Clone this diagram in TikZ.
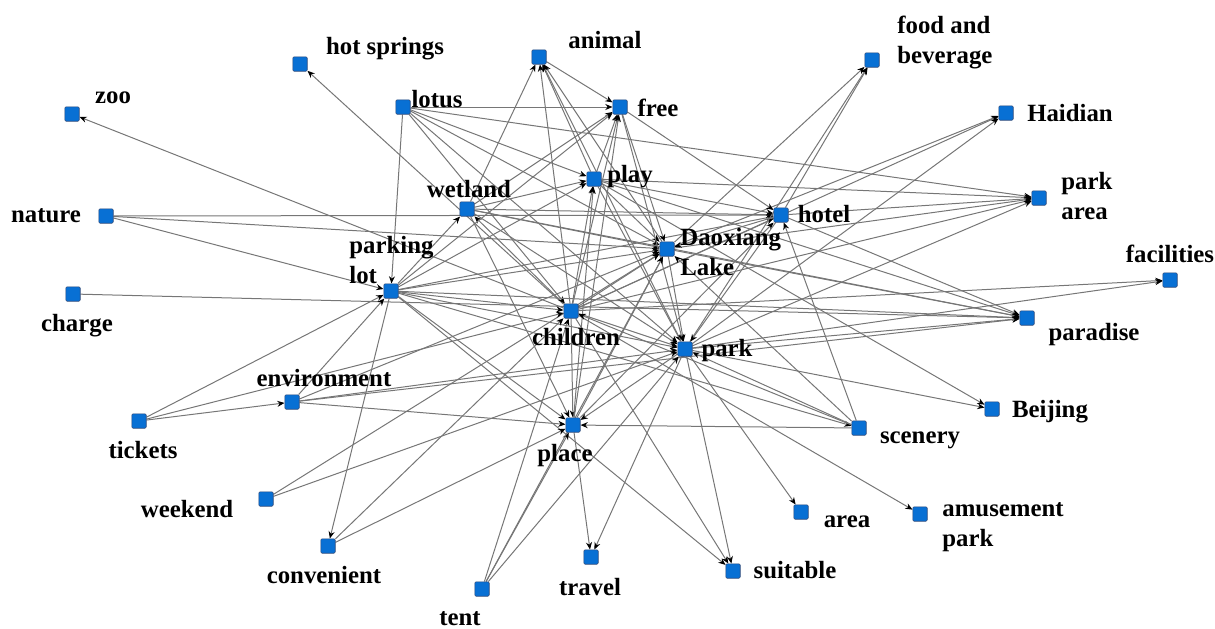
\documentclass[tikz,border=0pt]{standalone}
\usepackage{fontspec}
\setmainfont{Liberation Serif}
\definecolor{NodeBlue}{RGB}{8,112,212}
\definecolor{NodeRim}{RGB}{40,70,120}
\definecolor{LinkGray}{RGB}{118,118,118}
\usetikzlibrary{arrows.meta, backgrounds}

\begin{document}
\begin{tikzpicture}[x=0.5pt, y=-0.5pt,
    term/.style={rectangle, draw=NodeRim, fill=NodeBlue, line width=0.3pt, minimum size=7.2pt, inner sep=0pt, rounded corners=0.6pt},
    word/.style={inner sep=0pt, anchor=base, font=\fontsize{12.4}{15}\selectfont\bfseries},
    words/.style={word, anchor=base west, align=left},
    link/.style={draw=LinkGray, line width=0.5pt, -{Stealth[length=3.6pt, width=3pt, color=black]}}]
    \useasboundingbox (0,0) rectangle (1215,628);

    % terms (multi-line labels sit on the baseline of their last line)
    \node [term] (hotsprings) at (300,64) {};   \node [word] (hotspringsT) at (385,54) {hot springs};
    \node [term] (animal) at (539,57) {};       \node [word] (animalT) at (605,48) {animal};
    \node [term] (food) at (872,60) {};         \node [words] (foodT) at (897,63) {food and\\beverage};
    \node [term] (zoo) at (72,114) {};          \node [word] (zooT) at (113,103) {zoo};
    \node [term] (lotus) at (403,107) {};       \node [word] (lotusT) at (437,107) {lotus};
    \node [term] (free) at (620,107) {};        \node [word] (freeT) at (658,116) {free};
    \node [term] (haidian) at (1006,113) {};    \node [word] (haidianT) at (1070,121) {Haidian};
    \node [term] (play) at (594,179) {};        \node [word] (playT) at (630,182) {play};
    \node [term] (wetland) at (467,209) {};     \node [word] (wetlandT) at (469,197) {wetland};
    \node [term] (nature) at (106,216) {};      \node [word] (natureT) at (46,222) {nature};
    \node [term] (hotel) at (781,215) {};       \node [word] (hotelT) at (824,222) {hotel};
    \node [term] (parkarea) at (1039,198) {};   \node [words] (parkareaT) at (1061,219) {park\\area};
    \node [term] (daoxiang) at (667,249) {};    \node [words] (daoxiangT) at (680,275) {Daoxiang\\Lake};
    \node [term] (parkinglot) at (391,291) {};  \node [words] (parkinglotT) at (349,283) {parking\\lot};
    \node [term] (charge) at (73,294) {};       \node [word] (chargeT) at (77,331) {charge};
    \node [term] (facilities) at (1170,280) {}; \node [word] (facilitiesT) at (1170,262) {facilities};
    \node [term] (children) at (571,311) {};    \node [word] (childrenT) at (576,345) {children};
    \node [term] (paradise) at (1027,318) {};   \node [word] (paradiseT) at (1094,340) {paradise};
    \node [term] (park) at (685,349) {};        \node [word] (parkT) at (727,356) {park};
    \node [term] (environment) at (292,402) {}; \node [word] (environmentT) at (324,386) {environment};
    \node [term] (tickets) at (139,421) {};     \node [word] (ticketsT) at (143,458) {tickets};
    \node [term] (beijing) at (992,409) {};     \node [word] (beijingT) at (1050,417) {Beijing};
    \node [term] (scenery) at (859,428) {};     \node [word] (sceneryT) at (920,443) {scenery};
    \node [term] (place) at (573,425) {};       \node [word] (placeT) at (565,461) {place};
    \node [term] (weekend) at (266,499) {};     \node [word] (weekendT) at (187,517) {weekend};
    \node [term] (area) at (801,512) {};        \node [word] (areaT) at (847,527) {area};
    \node [term] (amusement) at (920,514) {};   \node [words] (amusementT) at (942,546) {amusement\\park};
    \node [term] (convenient) at (328,546) {};  \node [word] (convenientT) at (324,583) {convenient};
    \node [term] (travel) at (591,557) {};      \node [word] (travelT) at (590,595) {travel};
    \node [term] (suitable) at (733,571) {};    \node [word] (suitableT) at (795,578) {suitable};
    \node [term] (tent) at (482,589) {};        \node [word] (tentT) at (460,625) {tent};

    % links
    \begin{pgfonlayer}{background}
    \path [link] (children) edge (zoo) edge (hotsprings) edge (wetland) edge (animal) edge (free) edge (play)
        edge (haidian) edge (parkarea) edge (facilities) edge (amusement) edge (suitable) edge (daoxiang)
        edge (park) edge (place) edge (hotel);
    \path [link] (nature) edge (hotel) edge (daoxiang) edge (parkinglot);
    \path [link] (charge) edge (paradise);
    \path [link] (lotus) edge (free) edge (parkinglot) edge (play) edge (daoxiang) edge (park) edge (children) edge (parkarea);
    \path [link] (parkinglot) edge (wetland) edge (free) edge (play) edge (paradise) edge (suitable) edge (convenient)
        edge (daoxiang) edge (children) edge (park) edge (place) edge (hotel) edge (scenery);
    \path [link] (wetland) edge (free) edge (play) edge (daoxiang) edge (park) edge (place) edge (paradise) edge (animal) edge (hotel);
    \path [link] (play) edge (animal) edge (free) edge (hotel) edge (parkarea) edge (daoxiang) edge (park) edge (paradise) edge (beijing);
    \path [link] (daoxiang) edge (animal) edge (food) edge (haidian) edge (parkarea) edge (paradise) edge (park);
    \path [link] (park) edge (animal) edge (food) edge (haidian) edge (parkarea) edge (facilities) edge (paradise)
        edge (beijing) edge (area) edge (suitable) edge (travel) edge (place);
    \path [link] (free) edge (hotel) edge (daoxiang) edge (park);
    \path [link] (animal) edge (free);
    \path [link] (place) edge (free) edge (play) edge (travel) edge (daoxiang) edge (hotel);
    \path [link] (hotel) edge (food) edge (parkarea) edge (paradise) edge (park) edge (daoxiang);
    \path [link] (environment) edge (paradise) edge (parkinglot) edge (park) edge (place) edge (daoxiang);
    \path [link] (scenery) edge (hotel) edge (daoxiang) edge (park) edge (children) edge (place);
    \path [link] (tent) edge (place) edge (children) edge (park) edge (daoxiang);
    \path [link] (convenient) edge (place) edge (children);
    \path [link] (weekend) edge (park) edge (daoxiang);
    \path [link] (tickets) edge (parkinglot) edge (children) edge (environment);
    \end{pgfonlayer}
\end{tikzpicture}
\end{document}
